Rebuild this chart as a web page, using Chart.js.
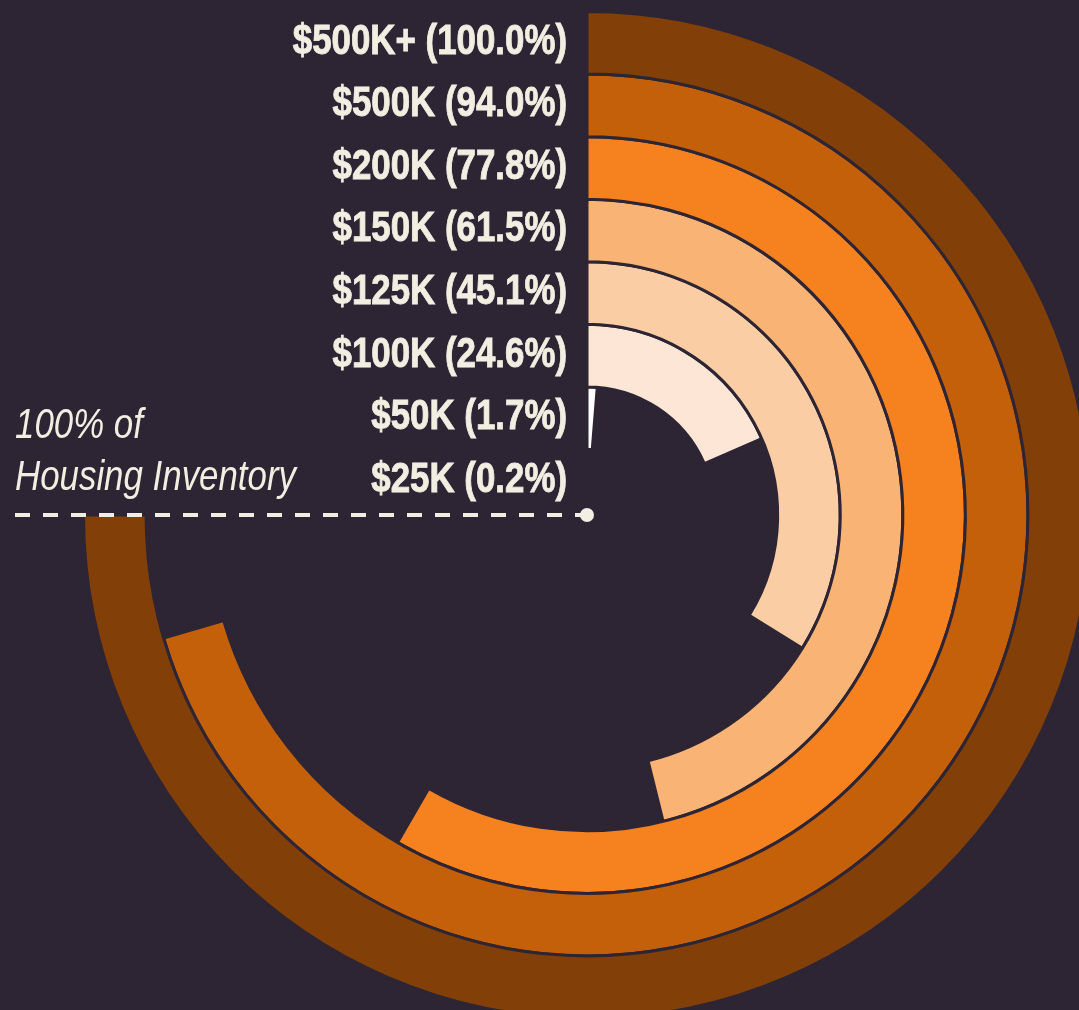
<!DOCTYPE html>
<html>
<head>
<meta charset="utf-8">
<script src="https://cdn.jsdelivr.net/npm/chart.js@4"></script>
<style>
  html, body { margin: 0; padding: 0; background: #2d2533; overflow: hidden; }
  canvas { display: block; position: absolute; left: 0; top: 0; }
</style>
</head>
<body>
<canvas id="myChart-Housing" width="1100" height="1030"></canvas>
<script>
const priceLabels = ['$500K+', '$500K', '$200K', '$150K', '$125K', '$100K', '$50K', '$25K'];
const inventoryShare = [100.0, 94.0, 77.8, 61.5, 45.1, 24.6, 1.7, 0.2];
const ringColors = ['#823f07', '#c45f0a', '#f5821f', '#f9b374', '#fbcda4', '#fde6d5', '#ffffff', '#ffffff'];
const bgColor = '#2d2533';
const textColor = '#f3eee2';

// narrow text: Liberation Sans squeezed to Arial Narrow proportions
function narrowText(ctx, text, x, y, heavy) {
  ctx.save();
  ctx.translate(x, y);
  ctx.scale(0.83, 1);
  ctx.fillText(text, 0, 0);
  if (heavy) {
    ctx.lineWidth = 0.9;
    ctx.strokeText(text, 0, 0);
  }
  ctx.restore();
}

const ringLabels = {
  id: 'ringLabels',
  afterDraw(chart) {
    const ctx = chart.ctx;
    let cx = 0, cy = 0;
    ctx.save();
    ctx.fillStyle = textColor;
    ctx.strokeStyle = textColor;
    ctx.font = 'bold 42px "Liberation Sans", Arial, sans-serif';
    ctx.textAlign = 'right';
    ctx.textBaseline = 'alphabetic';
    chart.data.datasets.forEach((ds, i) => {
      const arc = chart.getDatasetMeta(i).data[0];
      cx = arc.x; cy = arc.y;
      const mid = (arc.innerRadius + arc.outerRadius) / 2;
      narrowText(ctx, priceLabels[i] + ' (' + inventoryShare[i].toFixed(1) + '%)', arc.x - 20, arc.y - mid + 11, true);
    });

    // 100% marker line at 9 o'clock
    ctx.lineWidth = 4;
    ctx.setLineDash([15, 13]);
    ctx.beginPath();
    ctx.moveTo(15, cy);
    ctx.lineTo(cx, cy);
    ctx.stroke();
    ctx.setLineDash([]);
    ctx.beginPath();
    ctx.arc(cx, cy, 7, 0, Math.PI * 2);
    ctx.fill();

    ctx.font = 'italic 42px "Liberation Sans", Arial, sans-serif';
    ctx.textAlign = 'left';
    narrowText(ctx, '100% of', 15, cy - 77, false);
    narrowText(ctx, 'Housing Inventory', 15, cy - 25, false);
    ctx.restore();
  }
};

new Chart(document.getElementById('myChart-Housing'), {
  type: 'doughnut',
  data: {
    labels: ['share', 'rest'],
    datasets: inventoryShare.map((v, i) => ({
      label: priceLabels[i],
      data: [v, 100 - v],
      backgroundColor: [ringColors[i], 'rgba(0,0,0,0)'],
      borderColor: [bgColor, 'rgba(0,0,0,0)'],
      borderWidth: [3, 0],
      borderJoinStyle: 'miter'
    }))
  },
  options: {
    responsive: false,
    animation: false,
    rotation: 0,
    circumference: 270,
    cutout: 3,
    layout: { padding: { left: 82, top: 10, right: 8, bottom: 10 } },
    plugins: {
      legend: { display: false },
      tooltip: { enabled: false }
    }
  },
  plugins: [ringLabels]
});
</script>
</body>
</html>
